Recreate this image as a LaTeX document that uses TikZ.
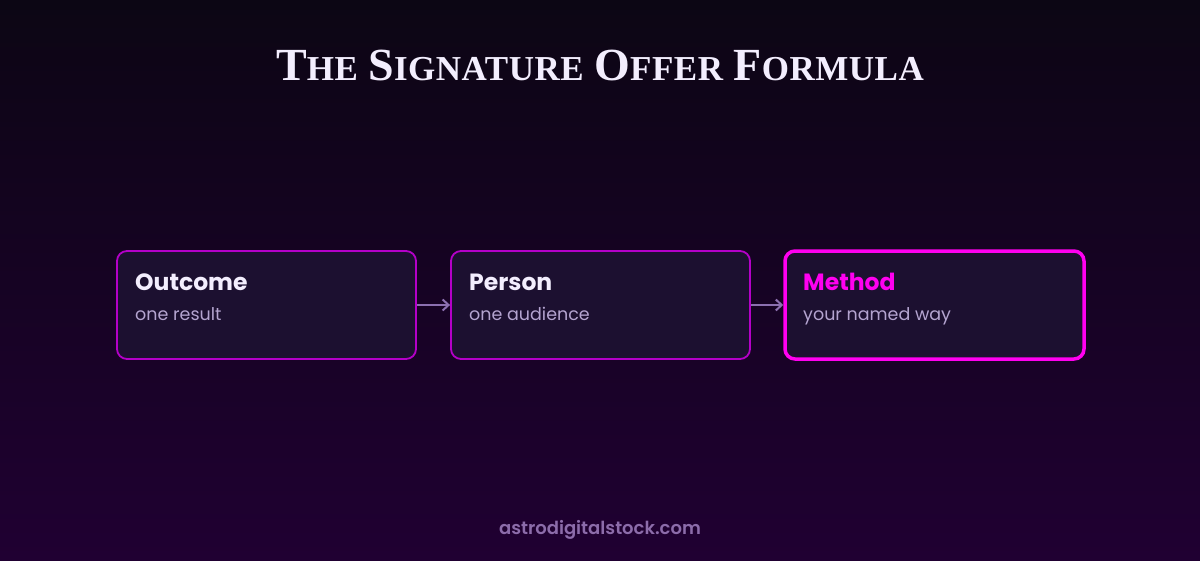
\documentclass[tikz,border=0pt]{standalone}
\usepackage{fontspec}
\setmainfont{Poppins}
\newfontfamily\titrefont[LetterSpace=1.5]{Liberation Serif}
\newfontfamily\piedfont{Poppins SemiBold}
\usetikzlibrary{positioning, arrows.meta}
\definecolor{hautfond}{RGB}{12,6,20}
\definecolor{basfond}{RGB}{32,0,50}
\definecolor{boite}{RGB}{28,16,48}
\definecolor{bord}{RGB}{180,0,200}
\definecolor{rose}{RGB}{255,0,240}
\definecolor{lavande}{RGB}{243,238,254}
\definecolor{gris}{RGB}{180,164,208}
\definecolor{fleche}{RGB}{140,112,176}
\definecolor{pied}{RGB}{140,108,170}
\newcommand{\pc}[2]{{\fontsize{46}{46}\selectfont #1}{\fontsize{35}{35}\selectfont #2}}

\begin{document}
\begin{tikzpicture}[x=1pt,y=-1pt]
		\tikzstyle{etape}=[draw=bord,line width=1.8pt,fill=boite,rounded corners=10pt,minimum width=299pt,minimum height=108pt]
		\tikzstyle{titre}=[anchor=base west,inner sep=0pt,font=\bfseries\fontsize{23.5}{23.5}\selectfont,text=lavande]
		\tikzstyle{sous}=[anchor=base west,inner sep=0pt,font=\fontsize{17.5}{17.5}\selectfont,text=gris]
		\tikzstyle{lien}=[-{Straight Barb[length=6pt,width=11pt]},line width=2pt,color=fleche]
                \shade[top color=hautfond, bottom color=basfond] (0,0) rectangle (1200,560);
                \useasboundingbox (0,0) rectangle (1200,560);
                \node[anchor=base,inner sep=0pt,text=lavande,font=\titrefont\bfseries\fontsize{40}{40}\selectfont] (t) at (600,80) {\pc{T}{HE} \pc{S}{IGNATURE} \pc{O}{FFER} \pc{F}{ORMULA}};
                \node[etape] (o) at (266.5,305) {}; \node[etape] (p) at (600.5,305) {};
                \node[etape,draw=rose,line width=3.5pt] (m) at (934.5,305) {};
                \node[titre] (ot) at (135,290) {Outcome}; \node[sous] (os) at (135,320) {one result};
                \node[titre] (pt) at (469,290) {Person}; \node[sous] (ps) at (469,320) {one audience};
                \node[titre,text=rose] (mt) at (803,290) {Method}; \node[sous] (ms) at (803,320) {your named way};
                \draw[lien] (o.east) -- (p.west); \draw[lien] (p.east) -- (m.west);
                \node[anchor=base,inner sep=0pt,text=pied,font=\piedfont\fontsize{18}{18}\selectfont] (s) at (600,534) {astrodigitalstock.com};
	\end{tikzpicture}
\end{document}
